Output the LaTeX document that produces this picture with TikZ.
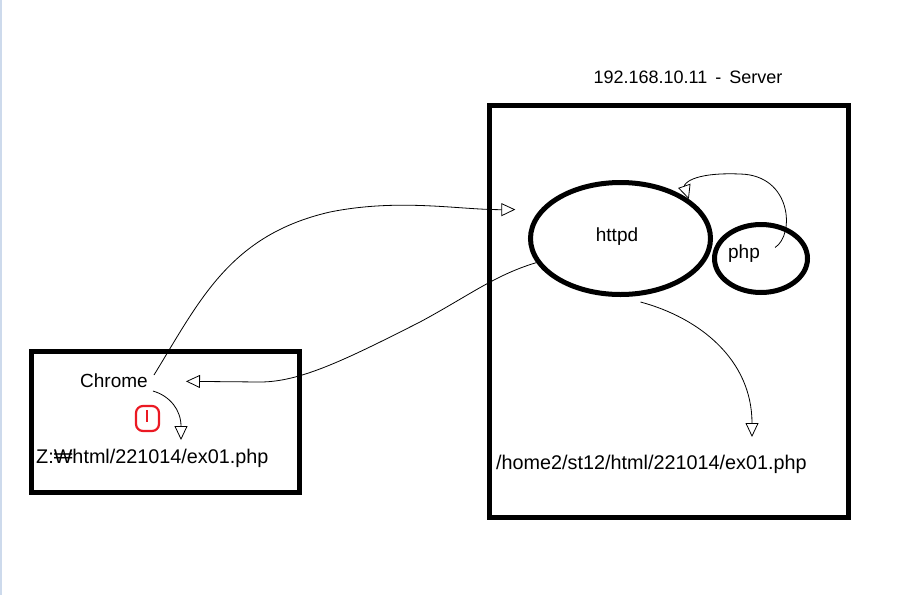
\documentclass[tikz,border=0pt]{standalone}
\usepackage{fontspec}
\setmainfont{Liberation Sans}
\usetikzlibrary{arrows.meta,shapes.geometric}
\definecolor{edgeblue}{RGB}{205,218,236}
\definecolor{markred}{RGB}{235,25,35}
\tikzset{
  box/.style={draw=black,line width=5pt},
  proc/.style={draw=black,line width=5pt,ellipse,inner sep=0pt},
  lbl/.style={font=\fontsize{19}{21}\selectfont,inner sep=0pt,text=black},
  pathlbl/.style={font=\fontsize{19.8}{22}\selectfont,inner sep=0pt,text=black,anchor=west},
  conn/.style={draw=black,line width=0.8pt,-{Triangle[open,length=14pt,width=13pt,line width=0.8pt]}},
}
\begin{document}
\begin{tikzpicture}[x=1pt,y=-1pt]
\useasboundingbox (0,0) rectangle (900,595);
\fill[white] (0,0) rectangle (900,595);
\fill[edgeblue] (0,0) rectangle (2,595);
% boxes
\draw[box] (31.5,351.5) rectangle (299.5,492.5);
\draw[box] (489.5,105) rectangle (848,517);
% texts
\node[lbl,font=\fontsize{18}{20}\selectfont] (server) at (688,77) {192.168.10.11 \,-\, Server};
\node[lbl] (chrome) at (114,381) {Chrome};
\node[pathlbl] (zpath) at (36,458) {Z:₩html/221014/ex01.php};
\node[pathlbl] (spath) at (496,464) {/home2/st12/html/221014/ex01.php};
% processes
\node[proc,minimum width=180pt,minimum height=112pt] (httpd) at (620.5,238.5) {};
\node[lbl] (httpdtext) at (617,237) {httpd};
\node[proc,minimum width=93pt,minimum height=68pt] (php) at (761,258.5) {};
\node[lbl] (phptext) at (744,254) {php};
% red mark
\draw[markred,line width=2.2pt,rounded corners=7pt] (136,406) rectangle (159,431);
\draw[markred,line width=2.2pt] (147,410) -- (147,422);
% connectors
\coordinate (c3end) at (181,440);
\coordinate (c4end) at (752,437);
\draw[conn,shorten >=25pt] ([shift={(6,-6)}]chrome.east) .. controls (200,300) and (230,235) .. (330,212) .. controls (400,198) and (460,210) .. (httpd.160);
\draw[conn,shorten >=38pt] (httpd.196) .. controls (495,275) and (470,295) .. (420,322) .. controls (345,360) and (300,382) .. (260,382) -- (chrome.east);
\draw[conn] ([shift={(5,10)}]chrome.east) .. controls (170,396) and (181,410) .. (c3end);
\draw[conn] ([shift={(20,5)}]httpd.south) .. controls (700,318) and (752,360) .. (c4end);
\draw[conn] ([shift={(14,-11)}]php.center) .. controls (795,235) and (792,175) .. (740,174) .. controls (690,172) and (684,185) .. (httpd.30);
\end{tikzpicture}
\end{document}
